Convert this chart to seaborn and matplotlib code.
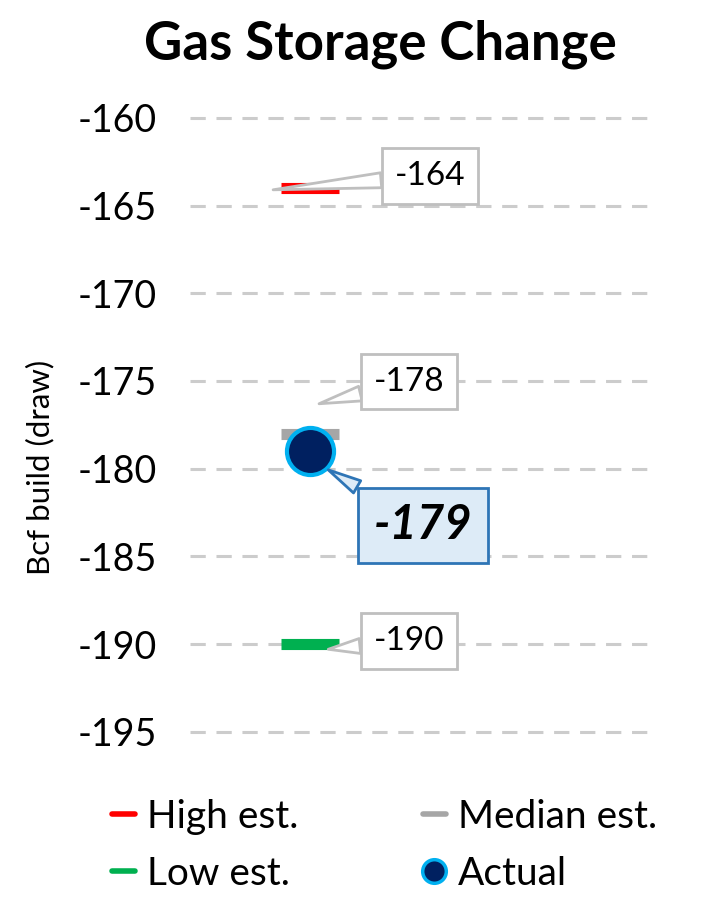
import matplotlib
matplotlib.use('Agg')
import matplotlib.pyplot as plt
import seaborn as sns
from matplotlib.lines import Line2D

# data
est_labels = ['High est.', 'Median est.', 'Low est.']
est_values = [-164, -178, -190]
est_colors = ['#FF0000', '#A6A6A6', '#00B050']
actual_label = 'Actual'
actual_value = -179
y_ticks = [-160, -165, -170, -175, -180, -185, -190, -195]

sns.set_theme(style='white')
plt.rcParams['font.family'] = ['Lato', 'DejaVu Sans']
plt.rcParams['text.color'] = 'black'
plt.rcParams['axes.labelcolor'] = 'black'
plt.rcParams['ytick.color'] = 'black'

fig = plt.figure(figsize=(7.05, 9), dpi=100)
ax = fig.add_axes([0.27, 0.187, 0.652, 0.682])

x_pos = 0.26
half_w = 0.063

# estimate markers (short thick lines)
for val, col in zip(est_values, est_colors):
    ax.hlines(val, x_pos - half_w, x_pos + half_w, color=col, lw=8, zorder=3)

# actual point
sns.scatterplot(x=[x_pos], y=[actual_value], s=1150, color='#002060',
                edgecolor='#00B0F0', linewidth=3, zorder=4, ax=ax, legend=False)

ax.set_xlim(0, 1)
ax.set_ylim(-195, -160)
ax.set_yticks(y_ticks)
ax.set_yticklabels([str(t) for t in y_ticks], fontsize=27)
ax.set_xticks([])
ax.tick_params(axis='y', length=0, pad=24)
for s in ax.spines.values():
    s.set_visible(False)
ax.grid(False)
for t in y_ticks:
    ax.axhline(t, color='#CCCCCC', lw=2.2, ls=(0, (5, 3.5)), zorder=1, clip_on=False)

ax.set_ylabel('Bcf build (draw)', fontsize=22.5)
ax.yaxis.set_label_coords(-0.295, 0.43)
fig.suptitle('Gas Storage Change', fontsize=38, fontweight='bold', x=0.54, y=0.978)

# callouts: (value, tip x, tip y offset, text offset in points)
grey_box = dict(boxstyle='square,pad=0.38', fc='white', ec='#BFBFBF', lw=2)
grey_arrow = dict(arrowstyle='wedge,tail_width=0.45,shrink_factor=0.5', fc='white',
                  ec='#BFBFBF', lw=2, shrinkA=0, shrinkB=0)
callouts = [(est_values[0], 0.18, -0.1, (113, 10)),
            (est_values[1], 0.28, 1.7, (65, 16)),
            (est_values[2], 0.30, -0.3, (58, 6))]
for val, tx, dy, off in callouts:
    ax.annotate(str(val), xy=(tx, val + dy), xytext=off, textcoords='offset points',
                fontsize=24, ha='center', va='center', bbox=grey_box,
                arrowprops=grey_arrow, zorder=5)

ax.annotate(str(actual_value), xy=(0.30, actual_value - 1.07), xytext=(68, -40),
            textcoords='offset points', fontsize=34, fontweight='bold', style='italic',
            ha='center', va='center',
            bbox=dict(boxstyle='square,pad=0.33', fc='#DDEBF7', ec='#2E75B6', lw=2),
            arrowprops=dict(arrowstyle='wedge,tail_width=0.3,shrink_factor=0.5',
                            fc='#DDEBF7', ec='#2E75B6', lw=2, shrinkA=0, shrinkB=0),
            zorder=5)

# legend (column-major order so rows read High/Median, Low/Actual)
handles = [Line2D([], [], color=est_colors[0], lw=4),
           Line2D([], [], color=est_colors[2], lw=4),
           Line2D([], [], color=est_colors[1], lw=4),
           Line2D([], [], marker='o', ls='', markersize=17, markerfacecolor='#002060',
                  markeredgecolor='#00B0F0', markeredgewidth=2.5)]
labels = [est_labels[0], est_labels[2], est_labels[1], actual_label]
fig.legend(handles, labels, loc='lower center', bbox_to_anchor=(0.545, -0.03), ncol=2,
           frameon=False, fontsize=28, handlelength=0.6, handletextpad=0.3,
           columnspacing=3.2, labelspacing=0.55)

fig.savefig('out.png', dpi=100)
